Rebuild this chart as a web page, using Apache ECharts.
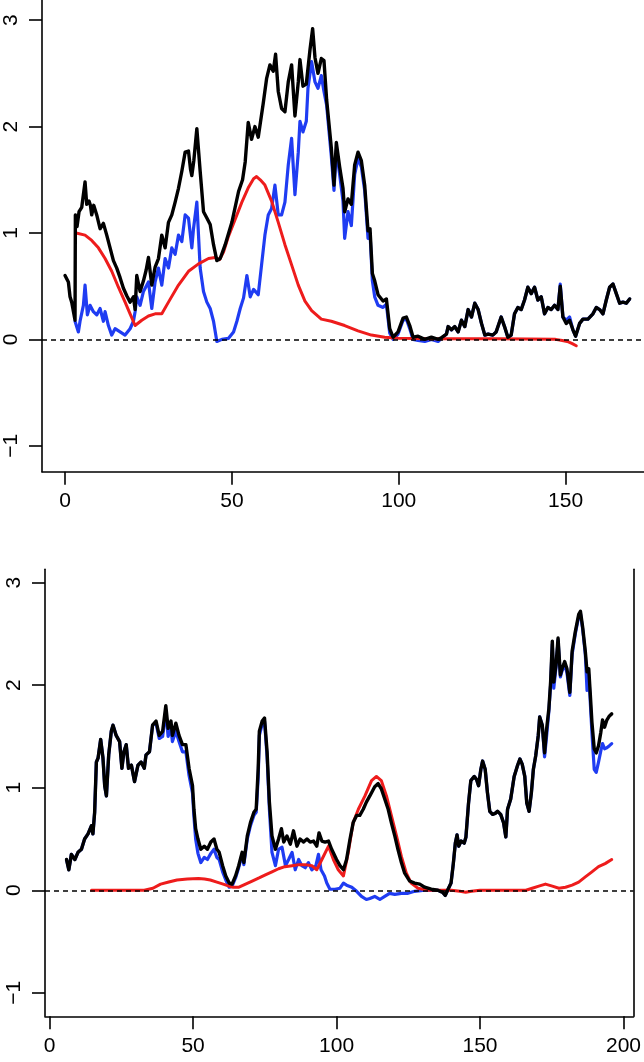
<!DOCTYPE html>
<html>
<head>
<meta charset="utf-8">
<script src="https://cdn.jsdelivr.net/npm/echarts@6/dist/echarts.min.js"></script>
<style>
html,body{margin:0;padding:0;background:#fff;}
#c{width:644px;height:1062px;}
</style>
</head>
<body>
<div id="c"></div>
<script>
// ---------- data ----------
const xTicksTop = [0, 50, 100, 150];
const xTicksBottom = [0, 50, 100, 150, 200];
const yTicks = [-1, 0, 1, 2, 3];

const topBlack = [[0,0.60],[1,0.54],[1.5,0.40],[2,0.35],[3,0.18],[3.1,1.17],[3.6,1.06],[4.2,1.20],[5,1.24],[6,1.48],[6.5,1.27],[7.2,1.30],[7.6,1.26],[8,1.17],[8.6,1.26],[9.5,1.17],[10.5,1.04],[11.5,1.09],[12.5,0.98],[13.5,0.86],[14.5,0.74],[15.5,0.67],[16.5,0.58],[17.5,0.48],[18.5,0.41],[19.5,0.35],[20.5,0.40],[21,0.28],[21.5,0.60],[22.5,0.45],[23.5,0.55],[24.3,0.65],[25,0.77],[26,0.51],[27,0.68],[28,0.76],[29,0.98],[30,0.86],[31,1.10],[32,1.17],[33,1.29],[34,1.42],[35,1.58],[36,1.76],[37,1.77],[37.6,1.60],[38,1.54],[38.6,1.68],[39.5,1.98],[40.5,1.58],[41.5,1.20],[42.5,1.14],[43.5,1.08],[44.5,0.89],[45.5,0.74],[46.5,0.76],[48,0.89],[50,1.10],[52,1.39],[53.2,1.50],[54,1.67],[54.9,2.04],[55.9,1.88],[56.9,2.00],[57.9,1.90],[59.4,2.22],[60.4,2.45],[61.4,2.58],[62.4,2.52],[63.1,2.68],[63.9,2.33],[64.9,2.17],[65.9,2.14],[66.9,2.42],[67.9,2.58],[68.9,2.10],[69.9,2.42],[70.4,2.63],[71.3,2.38],[72.3,2.40],[73.4,2.72],[74.2,2.92],[74.9,2.65],[75.8,2.50],[76.8,2.64],[77.6,2.62],[78.4,2.25],[79.8,1.80],[80.6,1.45],[81.3,1.85],[82.3,1.62],[83.3,1.42],[83.8,1.20],[84.8,1.32],[85.8,1.27],[86.8,1.64],[87.8,1.76],[88.8,1.68],[89.8,1.45],[90.8,1.02],[91.4,1.04],[92.1,0.62],[92.8,0.55],[93.8,0.42],[95.3,0.36],[96.3,0.38],[97.3,0.10],[98.3,0.02],[99.8,0.07],[101.3,0.20],[102.3,0.21],[103.3,0.13],[104.3,0.02],[105.8,0.03],[107.8,0.00],[109.8,0.02],[111.8,0.00],[112.5,0.01],[114.3,0.05],[114.8,0.12],[115.8,0.09],[116.8,0.12],[117.8,0.07],[118.8,0.18],[119.8,0.12],[120.8,0.28],[121.8,0.21],[122.8,0.34],[123.8,0.28],[124.8,0.15],[125.8,0.04],[126.8,0.05],[128.2,0.04],[129.2,0.07],[130.7,0.21],[131.7,0.12],[132.7,0.02],[133.7,0.04],[134.7,0.24],[135.7,0.30],[136.7,0.28],[137.7,0.37],[138.7,0.49],[139.7,0.43],[140.7,0.49],[141.7,0.37],[142.7,0.40],[143.7,0.24],[144.7,0.30],[145.7,0.28],[146.7,0.32],[147.7,0.28],[148.4,0.50],[149.2,0.21],[150.2,0.15],[151.2,0.18],[152.2,0.09],[153,0.03],[154.2,0.15],[155.2,0.19],[156.7,0.19],[158.2,0.24],[159.2,0.30],[160.2,0.28],[161.2,0.24],[162.2,0.37],[163.2,0.49],[164.2,0.52],[165.2,0.43],[166.2,0.34],[167.2,0.35],[168.2,0.34],[169.2,0.38]];

const topBlue = [[3,0.17],[4,0.07],[4.5,0.17],[5.5,0.32],[6,0.51],[6.7,0.23],[7.5,0.32],[8.5,0.26],[9.5,0.23],[10.5,0.29],[11.5,0.17],[12,0.26],[13,0.13],[14,0.04],[15,0.10],[16.5,0.07],[18,0.04],[19.5,0.10],[20.5,0.17],[21,0.26],[21.5,0.40],[22.5,0.32],[23.5,0.45],[25,0.54],[26,0.29],[27,0.54],[28,0.67],[29,0.51],[30,0.76],[31,0.67],[32,0.86],[33,0.80],[34,0.98],[35,0.92],[36,1.17],[37,1.14],[38,0.86],[38.5,1.04],[39.5,1.29],[40.5,0.67],[41.5,0.45],[42.5,0.35],[43.5,0.29],[44.5,0.17],[45.5,-0.02],[47,0.00],[49,0.01],[50.5,0.07],[51.5,0.17],[52.5,0.29],[53.5,0.39],[54.5,0.60],[55.5,0.40],[56.5,0.47],[57.9,0.42],[58.9,0.70],[59.9,0.98],[60.9,1.17],[61.9,1.23],[62.9,1.45],[63.9,1.17],[64.9,1.17],[65.9,1.29],[66.9,1.64],[67.9,1.89],[68.9,1.36],[69.9,1.76],[70.4,2.05],[71.3,1.95],[72.3,2.05],[72.8,2.36],[73.9,2.61],[74.9,2.42],[75.8,2.36],[76.8,2.48],[77.6,2.33],[78.4,2.20],[79.8,1.72],[80.6,1.40],[81.3,1.78],[82.3,1.55],[83.3,1.30],[83.8,0.95],[84.8,1.20],[85.8,1.07],[86.8,1.55],[87.8,1.70],[88.8,1.62],[89.8,1.40],[90.8,0.95],[91.4,1.00],[92.1,0.55],[92.8,0.40],[93.8,0.32],[95.3,0.30],[96.3,0.33],[97.3,0.06],[98.3,0.00],[99.8,0.05],[101.3,0.18],[102.3,0.19],[103.3,0.10],[104.3,0.00],[105.8,-0.01],[107.8,-0.02],[109.8,0.00],[111.8,-0.02],[112.5,0.00],[114.3,0.05],[114.8,0.12],[115.8,0.09],[116.8,0.12],[117.8,0.07],[118.8,0.18],[119.8,0.12],[120.8,0.28],[121.8,0.21],[122.8,0.34],[123.8,0.28],[124.8,0.15],[125.8,0.04],[126.8,0.05],[128.2,0.04],[129.2,0.07],[130.7,0.21],[131.7,0.12],[132.7,0.02],[133.7,0.04],[134.7,0.24],[135.7,0.30],[136.7,0.28],[137.7,0.37],[138.7,0.49],[139.7,0.43],[140.7,0.49],[141.7,0.37],[142.7,0.40],[143.7,0.24],[144.7,0.30],[145.7,0.28],[146.7,0.32],[147.7,0.28],[148.4,0.52],[149.2,0.21],[150.2,0.18],[151.2,0.21],[152.2,0.09],[153,0.03],[154.2,0.15],[155.2,0.19],[156.7,0.19],[158.2,0.24],[159.2,0.30],[160.2,0.28],[161.2,0.24],[162.2,0.37],[163.2,0.49],[164.2,0.52],[165.2,0.43],[166.2,0.34],[167.2,0.35],[168.2,0.34],[169.2,0.38]];

const topRed = [[3.3,1.00],[6,0.98],[8,0.93],[10,0.86],[12,0.76],[14,0.64],[16,0.49],[18,0.35],[19.5,0.24],[21,0.13],[23,0.18],[25,0.22],[27,0.24],[29,0.24],[31,0.35],[34,0.51],[37,0.64],[40,0.71],[43,0.76],[45,0.77],[46.3,0.75],[47.5,0.82],[49,0.97],[51,1.13],[53,1.29],[55,1.43],[56.5,1.51],[57.4,1.53],[58.5,1.50],[59.9,1.45],[61.9,1.30],[63.9,1.10],[65.9,0.89],[67.9,0.70],[69.9,0.51],[71.9,0.36],[73.9,0.27],[76.8,0.19],[79.8,0.17],[83.8,0.13],[87.8,0.08],[91.8,0.04],[95.8,0.02],[99.8,0.01],[110,0.005],[130,0.005],[147,0.0],[149,-0.01],[150.5,-0.02],[152,-0.04],[153.2,-0.06]];

const botBlack = [[5.9,0.30],[6.7,0.20],[7.6,0.35],[8.8,0.30],[9.9,0.37],[11.1,0.40],[12.2,0.50],[13.4,0.55],[14.6,0.63],[15.1,0.55],[15.7,0.76],[16.3,1.25],[16.9,1.29],[17.8,1.47],[18.6,1.29],[19.2,1.02],[19.8,0.92],[20.6,1.32],[21.5,1.55],[22.1,1.61],[23.2,1.51],[24.4,1.45],[25.2,1.19],[25.9,1.35],[26.7,1.42],[27.5,1.19],[28.5,1.22],[29.6,1.06],[30.8,1.22],[31.9,1.25],[33.0,1.19],[33.6,1.32],[34.8,1.35],[35.9,1.61],[37.1,1.65],[38.2,1.51],[39.4,1.55],[40.5,1.80],[41.3,1.58],[42.3,1.65],[42.8,1.51],[44.0,1.63],[45.1,1.51],[46.3,1.42],[47.5,1.42],[48.6,1.19],[49.8,1.02],[50.3,0.79],[50.9,0.60],[51.7,0.50],[52.7,0.40],[53.9,0.43],[55.0,0.40],[56.2,0.47],[57.3,0.50],[58.3,0.40],[59.1,0.37],[60.3,0.24],[61.4,0.14],[62.6,0.07],[63.6,0.06],[64.8,0.14],[65.9,0.24],[67.1,0.37],[67.7,0.27],[68.9,0.53],[70.0,0.66],[71.2,0.76],[72.0,0.79],[72.7,1.19],[73.1,1.55],[74.1,1.65],[74.9,1.68],[75.8,1.35],[76.6,0.86],[77.5,0.53],[78.7,0.40],[79.8,0.50],[80.8,0.60],[81.6,0.47],[82.7,0.53],[83.9,0.45],[85.0,0.58],[86.2,0.43],[87.3,0.50],[88.5,0.47],[89.7,0.50],[90.8,0.47],[92.0,0.48],[93.1,0.43],[93.9,0.56],[94.9,0.48],[96.0,0.47],[97.2,0.48],[98.3,0.40],[100.0,0.30],[101.2,0.24],[102.4,0.20],[103.5,0.30],[104.7,0.50],[105.8,0.66],[107.0,0.73],[108.1,0.73],[109.3,0.79],[110.4,0.86],[111.6,0.92],[113.3,1.01],[114.5,1.04],[115.6,0.99],[116.8,0.89],[118.0,0.79],[119.1,0.66],[120.3,0.53],[121.4,0.40],[122.6,0.27],[123.7,0.17],[125.5,0.09],[127.2,0.07],[129.0,0.06],[130.7,0.03],[133.0,0.01],[135.3,0.00],[137.0,-0.02],[137.9,-0.05],[138.7,0.00],[139.9,0.07],[140.7,0.26],[141.4,0.46],[142.0,0.54],[142.6,0.43],[143.4,0.48],[144.5,0.46],[145.1,0.52],[146.0,0.85],[146.8,1.07],[148.0,1.11],[148.8,1.08],[149.5,1.02],[150.3,1.18],[150.9,1.26],[151.8,1.18],[152.6,0.95],[153.4,0.77],[154.4,0.74],[155.3,0.75],[156.1,0.77],[157.2,0.74],[158.2,0.66],[159.0,0.52],[159.6,0.79],[160.7,0.89],[161.9,1.11],[163.0,1.21],[163.9,1.28],[164.7,1.23],[165.6,1.11],[166.3,0.85],[167.1,0.77],[167.9,0.95],[168.6,1.18],[169.4,1.31],[170.3,1.51],[170.8,1.69],[171.7,1.61],[172.5,1.34],[173.2,1.57],[174.0,1.77],[174.6,2.03],[175.2,2.43],[175.7,2.03],[176.5,2.20],[177.2,2.46],[178.0,2.10],[178.6,2.16],[179.5,2.23],[180.3,2.16],[181.3,1.93],[182.1,2.33],[183.2,2.52],[184.4,2.69],[185.0,2.72],[185.8,2.56],[186.7,2.33],[187.3,2.13],[187.9,2.16],[188.4,1.93],[189.0,1.64],[189.8,1.38],[190.5,1.34],[191.3,1.41],[192.1,1.54],[192.7,1.66],[193.4,1.59],[194.2,1.66],[195.1,1.70],[195.9,1.72]];

const botBlue = [[5.9,0.30],[6.7,0.20],[7.6,0.35],[8.8,0.30],[9.9,0.37],[11.1,0.40],[12.2,0.50],[13.4,0.55],[14.6,0.63],[15.1,0.55],[15.7,0.76],[16.3,1.25],[16.9,1.29],[17.8,1.47],[18.6,1.29],[19.2,1.02],[19.8,0.92],[20.6,1.32],[21.5,1.55],[22.1,1.61],[23.2,1.51],[24.4,1.45],[25.2,1.19],[25.9,1.35],[26.7,1.42],[27.5,1.19],[28.5,1.22],[29.6,1.06],[30.8,1.22],[31.9,1.25],[33.0,1.19],[33.6,1.32],[34.8,1.35],[35.9,1.61],[37.1,1.63],[38.2,1.48],[39.4,1.50],[40.5,1.75],[41.3,1.50],[42.3,1.58],[42.8,1.45],[44.0,1.55],[45.1,1.45],[46.3,1.35],[47.5,1.35],[48.6,1.12],[49.8,0.95],[50.3,0.72],[50.9,0.50],[51.7,0.36],[52.7,0.27],[53.9,0.32],[55.0,0.30],[56.2,0.36],[57.3,0.40],[58.3,0.32],[59.1,0.30],[60.3,0.18],[61.4,0.10],[62.6,0.03],[63.6,0.04],[64.8,0.12],[65.9,0.22],[67.1,0.35],[67.7,0.25],[68.9,0.50],[70.0,0.63],[71.2,0.73],[72.0,0.76],[72.7,1.10],[73.1,1.51],[74.1,1.62],[74.9,1.65],[75.8,1.30],[76.6,0.79],[77.5,0.37],[78.7,0.24],[79.8,0.40],[81.0,0.42],[82.2,0.24],[83.3,0.30],[84.5,0.37],[85.6,0.20],[86.8,0.30],[87.9,0.24],[89.1,0.22],[90.2,0.27],[91.4,0.20],[92.8,0.24],[93.7,0.35],[94.6,0.20],[95.8,0.14],[96.6,0.07],[97.7,0.01],[99.5,0.01],[101.2,0.02],[102.4,0.07],[103.5,0.05],[105.3,0.03],[107.0,-0.01],[108.7,-0.06],[110.4,-0.09],[111.6,-0.08],[113.3,-0.06],[115.1,-0.09],[116.8,-0.06],[118.5,-0.03],[120.3,-0.04],[122.6,-0.03],[124.9,-0.03],[127.2,-0.01],[130.7,0.00],[133.0,0.00],[135.3,0.00],[137.0,-0.02],[137.9,-0.05],[138.7,0.00],[139.9,0.07],[140.7,0.26],[141.4,0.46],[142.0,0.54],[142.6,0.43],[143.4,0.48],[144.5,0.46],[145.1,0.52],[146.0,0.85],[146.8,1.07],[148.0,1.11],[148.8,1.08],[149.5,1.02],[150.3,1.18],[150.9,1.26],[151.8,1.18],[152.6,0.95],[153.4,0.77],[154.4,0.74],[155.3,0.75],[156.1,0.77],[157.2,0.74],[158.2,0.66],[159.0,0.52],[159.6,0.79],[160.7,0.89],[161.9,1.11],[163.0,1.21],[163.9,1.28],[164.7,1.23],[165.6,1.11],[166.3,0.85],[167.1,0.77],[167.9,0.95],[168.6,1.18],[169.4,1.31],[170.3,1.51],[170.8,1.69],[171.7,1.61],[172.5,1.30],[173.2,1.50],[174.0,1.75],[174.6,2.00],[175.2,2.40],[175.7,1.97],[176.5,2.18],[177.2,2.44],[178.0,2.08],[178.6,2.14],[179.5,2.20],[180.3,2.12],[181.3,1.90],[182.1,2.30],[183.2,2.50],[184.4,2.67],[185.0,2.70],[185.8,2.54],[186.7,2.30],[187.3,1.95],[187.9,2.10],[188.4,1.85],[189.0,1.54],[189.8,1.18],[190.5,1.15],[191.3,1.25],[192.1,1.36],[192.7,1.43],[193.4,1.38],[194.2,1.39],[195.1,1.41],[195.9,1.43]];

const botRed = [[14.6,0.00],[33.0,0.00],[36.0,0.02],[38.7,0.06],[41.5,0.08],[44.4,0.10],[48.0,0.11],[51.9,0.115],[54.0,0.11],[56.0,0.10],[58.3,0.08],[60.5,0.06],[62.5,0.04],[64.0,0.03],[66.0,0.03],[68.3,0.06],[70.6,0.09],[73.0,0.12],[75.2,0.15],[77.5,0.18],[79.8,0.21],[82.0,0.23],[84.5,0.24],[87.0,0.25],[89.1,0.25],[91.4,0.24],[93.1,0.20],[94.9,0.30],[97.2,0.43],[98.9,0.30],[100.6,0.20],[102.4,0.14],[104.1,0.37],[105.8,0.66],[107.6,0.79],[109.9,0.92],[112.2,1.07],[113.9,1.11],[115.6,1.07],[117.4,0.92],[119.1,0.73],[120.9,0.53],[122.6,0.33],[124.3,0.17],[126.0,0.07],[128.4,0.02],[131.8,0.00],[140.0,0.00],[143.0,-0.01],[145.0,-0.02],[147.0,-0.01],[150.0,0.00],[166.0,0.00],[168.2,0.02],[170.5,0.04],[172.8,0.06],[175.2,0.04],[177.5,0.02],[179.8,0.03],[182.1,0.05],[184.4,0.08],[186.7,0.13],[189.0,0.18],[191.3,0.23],[193.6,0.26],[195.9,0.30]];

// ---------- chart ----------
const FONT = '"Liberation Sans", Arial, Helvetica, sans-serif';
const BLACK = '#000000', BLUE = '#1f3cf2', RED = '#ee1c1c';
const fmt = v => (v < 0 ? '\u2212' + Math.abs(v) : String(v));

function xAxisDef(grid, min, max, ticks) {
  return {
    type: 'value', gridIndex: grid, min: min, max: max,
    axisLine: { show: true, onZero: false, lineStyle: { color: '#000', width: 1.6 } },
    axisTick: { show: true, length: 13, inside: false, customValues: ticks, lineStyle: { color: '#000', width: 1.6 } },
    axisLabel: { show: true, customValues: ticks, margin: 19, fontSize: 21, color: '#000', fontFamily: FONT, formatter: fmt },
    splitLine: { show: false }
  };
}
function yAxisDef(grid, min, max) {
  return {
    type: 'value', gridIndex: grid, min: min, max: max, position: 'left',
    axisLine: { show: true, onZero: false, lineStyle: { color: '#000', width: 1.6 } },
    axisTick: { show: true, length: 13, inside: false, customValues: yTicks, lineStyle: { color: '#000', width: 1.6 } },
    axisLabel: { show: true, customValues: yTicks, rotate: 90, margin: 20, fontSize: 21, color: '#000', fontFamily: FONT, formatter: fmt },
    splitLine: { show: false }
  };
}
function line(data, color, w, xi, yi, z, withZero) {
  const s = {
    type: 'line', data: data, xAxisIndex: xi, yAxisIndex: yi,
    showSymbol: false, symbol: 'none', smooth: false, z: z,
    lineStyle: { color: color, width: w, join: 'round', cap: 'round' },
    silent: true
  };
  if (withZero) {
    s.markLine = {
      silent: true, symbol: ['none', 'none'], label: { show: false },
      lineStyle: { color: '#000', width: 1.6, type: [5, 4] },
      data: [{ yAxis: 0 }]
    };
  }
  return s;
}

const chart = echarts.init(document.getElementById('c'), null, { renderer: 'canvas' });
chart.setOption({
  animation: false,
  backgroundColor: '#ffffff',
  grid: [
    { left: 42, top: 0, width: 602, height: 471.7 },
    { left: 45, top: 569.3, width: 591.7, height: 447 }
  ],
  xAxis: [
    xAxisDef(0, -6.9, 173.5, xTicksTop),
    xAxisDef(1, -1.6, 203.5, xTicksBottom)
  ],
  yAxis: [
    yAxisDef(0, -1.244, 3.19),
    yAxisDef(1, -1.229, 3.13),
    {
      type: 'value', gridIndex: 1, min: -1.229, max: 3.13, position: 'right',
      axisLine: { show: true, onZero: false, lineStyle: { color: '#000', width: 1.6 } },
      axisTick: { show: false }, axisLabel: { show: false }, splitLine: { show: false }
    }
  ],
  series: [
    line(topBlue, BLUE, 3.2, 0, 0, 2, false),
    line(topRed, RED, 3.0, 0, 0, 3, false),
    line(topBlack, BLACK, 3.4, 0, 0, 4, true),
    line(botBlue, BLUE, 3.2, 1, 1, 2, false),
    line(botRed, RED, 3.0, 1, 1, 3, false),
    line(botBlack, BLACK, 3.4, 1, 1, 4, true)
  ]
});
</script>
</body>
</html>
